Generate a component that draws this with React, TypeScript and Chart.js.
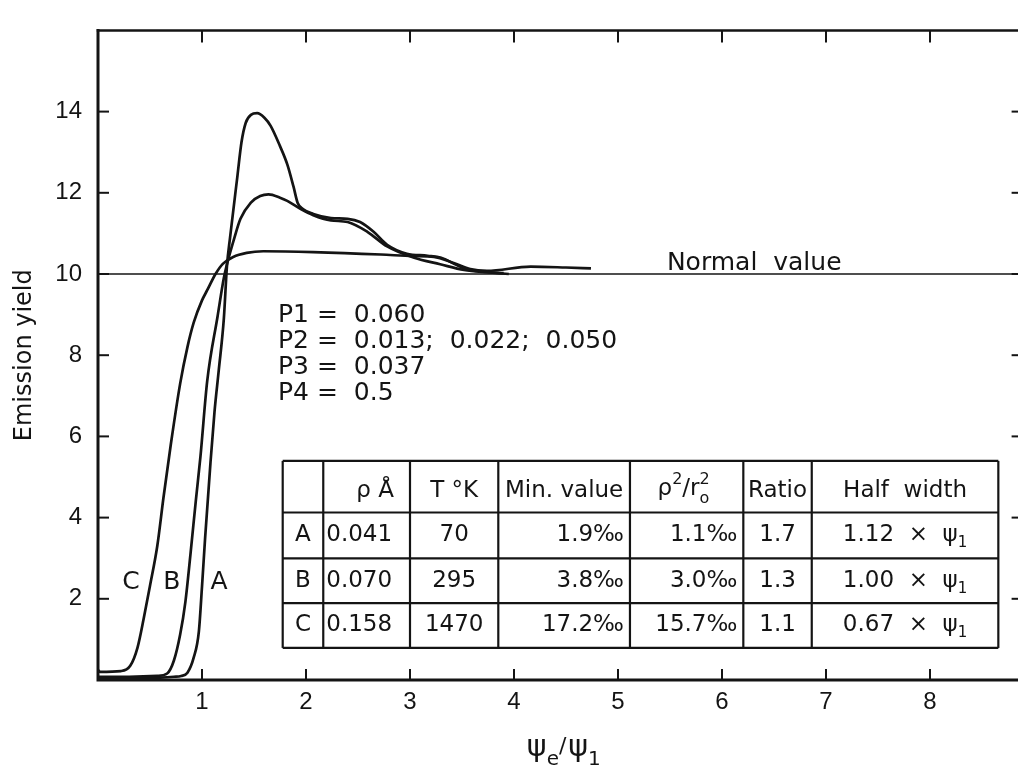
import React, { useEffect, useRef } from 'react';
import { Chart, registerables } from 'chart.js';

Chart.register(...registerables);

// ---------- data ----------
const curveAx = [0, 0.3, 0.6, 0.73, 0.8, 0.86, 0.92, 0.97, 1.0, 1.03, 1.08, 1.12, 1.16, 1.21, 1.24, 1.27, 1.34, 1.38, 1.42, 1.47, 1.53, 1.6, 1.66, 1.75, 1.82, 1.88, 1.92, 1.97, 2.07, 2.24, 2.4, 2.52, 2.65, 2.78, 2.97, 3.17, 3.3, 3.45, 3.58, 3.74, 3.9];
const curveAy = [0.05, 0.05, 0.06, 0.08, 0.1, 0.18, 0.55, 1.2, 2.3, 3.5, 5.3, 6.6, 7.6, 8.9, 10.2, 10.9, 12.4, 13.25, 13.72, 13.92, 13.96, 13.85, 13.65, 13.15, 12.7, 12.15, 11.75, 11.6, 11.48, 11.38, 11.36, 11.28, 11.04, 10.72, 10.5, 10.45, 10.4, 10.22, 10.1, 10.05, 10.02];

const curveBx = [0, 0.3, 0.57, 0.665, 0.73, 0.79, 0.84, 0.89, 0.94, 0.985, 1.05, 1.15, 1.21, 1.24, 1.31, 1.37, 1.47, 1.56, 1.64, 1.75, 1.82, 1.95, 2.07, 2.24, 2.4, 2.59, 2.78, 3.04, 3.29, 3.52, 3.76, 3.95];
const curveBy = [0.08, 0.08, 0.1, 0.16, 0.48, 1.12, 1.92, 3.12, 4.4, 5.5, 7.36, 8.96, 9.9, 10.24, 10.88, 11.36, 11.76, 11.92, 11.96, 11.88, 11.8, 11.6, 11.45, 11.32, 11.28, 11.04, 10.68, 10.4, 10.24, 10.1, 10.04, 10.0];

const curveCx = [0, 0.02, 0.22, 0.31, 0.38, 0.44, 0.5, 0.57, 0.63, 0.7, 0.79, 0.86, 0.92, 1.0, 1.05, 1.13, 1.2, 1.3, 1.43, 1.59, 2.07, 2.72, 3.03, 3.23, 3.42, 3.58, 3.74, 4.16, 4.5, 4.74];
const curveCy = [0.25, 0.2, 0.22, 0.35, 0.8, 1.52, 2.32, 3.3, 4.5, 5.8, 7.3, 8.2, 8.8, 9.35, 9.6, 10.0, 10.25, 10.42, 10.52, 10.56, 10.54, 10.48, 10.44, 10.42, 10.27, 10.12, 10.08, 10.18, 10.16, 10.14];

const normalValue = 10;
const xTicks = [1, 2, 3, 4, 5, 6, 7, 8];
const yTicks = [2, 4, 6, 8, 10, 12, 14];

const curveNames = ['C', 'B', 'A'];
const curveNameX = [0.317, 0.71, 1.163];
const curveNameY = 2.4;

const paramLines = ['P1 =  0.060', 'P2 =  0.013;  0.022;  0.050', 'P3 =  0.037', 'P4 =  0.5'];

const tableRowLabels = ['A', 'B', 'C'];
const tableRho = ['0.041', '0.070', '0.158'];
const tableT = ['70', '295', '1470'];
const tableMin = ['1.9‰', '3.8‰', '17.2‰'];
const tableRhoR = ['1.1‰', '3.0‰', '15.7‰'];
const tableRatio = ['1.7', '1.3', '1.1'];
const tableHalfWidth = ['1.12', '1.00', '0.67'];

// ---------- styling / layout ----------
const INK = '#141414';
const FONT = '"DejaVu Sans", sans-serif';
const TICK_FONT = '"Liberation Sans Narrow", "Liberation Sans", sans-serif';
const CANVAS_W = 1040;
const CANVAS_H = 767;

// table frame in data units
const colEdges = [1.776, 2.166, 3.0, 3.849, 5.115, 6.205, 6.863, 8.657];
const rowEdges = [5.397, 4.126, 2.998, 1.895, 0.79];

type Seg = { t: string; size: number; dy?: number; under?: string; underDy?: number };

function segWidth(ctx: CanvasRenderingContext2D, s: Seg) {
  ctx.font = `${s.size}px ${FONT}`;
  let w = ctx.measureText(s.t).width;
  if (s.under) w = Math.max(w, ctx.measureText(s.under).width);
  return w;
}

function drawRich(ctx: CanvasRenderingContext2D, segs: Seg[], x: number, y: number, align: 'left' | 'center' | 'right') {
  const total = segs.reduce((acc, s) => acc + segWidth(ctx, s), 0);
  let cx = align === 'center' ? x - total / 2 : align === 'right' ? x - total : x;
  ctx.textAlign = 'left';
  for (const s of segs) {
    const w = segWidth(ctx, s);
    ctx.font = `${s.size}px ${FONT}`;
    ctx.fillText(s.t, cx, y + (s.dy || 0));
    if (s.under) ctx.fillText(s.under, cx, y + (s.underDy || 0));
    cx += w;
  }
}

const decorPlugin = {
  id: 'decor',
  afterDatasetsDraw(chart: any) {
    const { ctx, chartArea: a, scales } = chart;
    const px = (v: number) => scales.x.getPixelForValue(v);
    const py = (v: number) => scales.y.getPixelForValue(v);
    const line = (x1: number, y1: number, x2: number, y2: number) => {
      ctx.beginPath();
      ctx.moveTo(x1, y1);
      ctx.lineTo(x2, y2);
      ctx.stroke();
    };
    ctx.save();
    ctx.strokeStyle = INK;
    ctx.fillStyle = INK;
    ctx.lineCap = 'square';

    // frame
    ctx.lineWidth = 3;
    ctx.beginPath();
    ctx.moveTo(a.left, a.top);
    ctx.lineTo(a.left, a.bottom);
    ctx.lineTo(a.right, a.bottom);
    ctx.stroke();
    ctx.lineWidth = 2.5;
    ctx.beginPath();
    ctx.moveTo(a.left, a.top);
    ctx.lineTo(a.right, a.top);
    ctx.lineTo(a.right, a.bottom);
    ctx.stroke();

    // inward ticks
    ctx.lineWidth = 2;
    ctx.lineCap = 'butt';
    xTicks.forEach((v) => {
      const x = px(v);
      line(x, a.bottom, x, a.bottom - 11);
      line(x, a.top, x, a.top + 12);
    });
    yTicks.forEach((v) => {
      const y = py(v);
      line(a.left, y, a.left + 11, y);
      line(a.right, y, a.right - 12, y);
    });

    // curve names
    ctx.font = `25px ${FONT}`;
    ctx.textAlign = 'center';
    ctx.textBaseline = 'middle';
    curveNames.forEach((n, i) => ctx.fillText(n, px(curveNameX[i]), py(curveNameY)));

    // normal value label
    ctx.textAlign = 'left';
    ctx.textBaseline = 'alphabetic';
    ctx.font = `25px ${FONT}`;
    ctx.fillText('Normal  value', px(5.47), py(normalValue) - 4);

    // parameter block
    ctx.textBaseline = 'middle';
    const pTop = py(8.98);
    paramLines.forEach((t, i) => ctx.fillText(t, px(1.731), pTop + i * 26));

    // table grid
    ctx.lineWidth = 2.2;
    const tx0 = px(colEdges[0]);
    const tx1 = px(colEdges[colEdges.length - 1]);
    const ty0 = py(rowEdges[0]);
    const ty1 = py(rowEdges[rowEdges.length - 1]);
    rowEdges.forEach((r) => line(tx0, py(r), tx1, py(r)));
    colEdges.forEach((c) => line(px(c), ty0, px(c), ty1));

    const cl = (i: number) => px(colEdges[i]);
    const cc = (i: number) => (px(colEdges[i]) + px(colEdges[i + 1])) / 2;
    const rc = (j: number) => (py(rowEdges[j]) + py(rowEdges[j + 1])) / 2;
    const TS = 23;

    // header
    const hy = rc(0) + 4;
    ctx.textBaseline = 'middle';
    ctx.font = `${TS}px ${FONT}`;
    ctx.textAlign = 'right';
    ctx.fillText('ρ Å', cl(2) - 16, hy);
    ctx.textAlign = 'center';
    ctx.fillText('T °K', cc(2), hy);
    ctx.fillText('Min. value', cc(3), hy);
    ctx.fillText('Ratio', cc(5), hy);
    ctx.fillText('Half  width', cc(6), hy);
    drawRich(
      ctx,
      [
        { t: 'ρ', size: TS },
        { t: '2', size: 16, dy: -9 },
        { t: '/r', size: TS },
        { t: '2', size: 16, dy: -9, under: 'o', underDy: 10 },
      ],
      cc(4) - 3,
      hy - 2,
      'center'
    );

    // rows
    for (let j = 0; j < 3; j++) {
      const y = rc(j + 1);
      ctx.font = `${TS}px ${FONT}`;
      ctx.textAlign = 'center';
      ctx.fillText(tableRowLabels[j], cc(0), y);
      ctx.textAlign = 'left';
      ctx.fillText(tableRho[j], cl(1) + 3, y);
      ctx.textAlign = 'center';
      ctx.fillText(tableT[j], cc(2), y);
      ctx.textAlign = 'right';
      ctx.fillText(tableMin[j], cl(4) - 6, y);
      ctx.fillText(tableRhoR[j], cl(5) - 6, y);
      ctx.textAlign = 'center';
      ctx.fillText(tableRatio[j], cc(5), y);
      drawRich(
        ctx,
        [
          { t: `${tableHalfWidth[j]}  ×  ψ`, size: TS },
          { t: '1', size: 15, dy: 8 },
        ],
        cc(6),
        y,
        'center'
      );
    }

    // x axis title  ψe / ψ1
    ctx.textBaseline = 'alphabetic';
    drawRich(
      ctx,
      [
        { t: 'ψ', size: 30 },
        { t: 'e', size: 20, dy: 9 },
        { t: '/', size: 22, dy: -3 },
        { t: ' ', size: 6 },
        { t: 'ψ', size: 30 },
        { t: '1', size: 20, dy: 9 },
      ],
      (a.left + a.right) / 2 + 3,
      756,
      'center'
    );

    ctx.restore();
  },
};

function toPoints(xs: number[], ys: number[]) {
  return xs.map((x, i) => ({ x, y: ys[i] }));
}

export default function App() {
  const ref = useRef<HTMLCanvasElement | null>(null);

  useEffect(() => {
    if (!ref.current) return;
    const curveStyle = {
      borderColor: INK,
      borderWidth: 2.7,
      pointRadius: 0,
      showLine: true,
      fill: false,
      cubicInterpolationMode: 'monotone' as const,
    };
    const chart = new Chart(ref.current, {
      type: 'scatter',
      data: {
        datasets: [
          { label: 'A', data: toPoints(curveAx, curveAy), ...curveStyle },
          { label: 'B', data: toPoints(curveBx, curveBy), ...curveStyle },
          { label: 'C', data: toPoints(curveCx, curveCy), ...curveStyle },
          {
            label: 'Normal value',
            data: [
              { x: 0, y: normalValue },
              { x: 8.9, y: normalValue },
            ],
            borderColor: INK,
            borderWidth: 1.6,
            pointRadius: 0,
            showLine: true,
          },
        ],
      },
      options: {
        responsive: false,
        devicePixelRatio: 1,
        animation: false,
        layout: { padding: { left: 0, top: 13, right: CANVAS_W - 1023.6, bottom: 0 } },
        plugins: { legend: { display: false }, tooltip: { enabled: false } },
        scales: {
          x: {
            type: 'linear',
            min: 0,
            max: 8.9,
            grid: { display: false, drawTicks: false },
            border: { display: false },
            afterBuildTicks: (s: any) => {
              s.ticks = xTicks.map((v) => ({ value: v }));
            },
            afterFit: (s: any) => {
              s.height = 87;
            },
            ticks: {
              color: INK,
              padding: 8,
              maxRotation: 0,
              font: { family: TICK_FONT, size: 24 },
            },
          },
          y: {
            type: 'linear',
            min: 0,
            max: 16,
            grid: { display: false, drawTicks: false },
            border: { display: false },
            afterBuildTicks: (s: any) => {
              s.ticks = yTicks.map((v) => ({ value: v }));
            },
            afterFit: (s: any) => {
              s.width = 98;
            },
            ticks: {
              color: INK,
              padding: 16,
              font: { family: TICK_FONT, size: 24 },
            },
            title: {
              display: true,
              text: 'Emission yield',
              color: INK,
              font: { family: FONT, size: 24 },
              padding: { top: 10, bottom: 0 },
            },
          },
        },
      },
      plugins: [decorPlugin],
    });
    return () => chart.destroy();
  }, []);

  return (
    <div
      style={{
        position: 'fixed',
        left: 0,
        top: 0,
        width: 1018,
        height: 767,
        overflow: 'hidden',
        background: '#fff',
      }}
    >
      <canvas ref={ref} width={CANVAS_W} height={CANVAS_H} style={{ width: CANVAS_W, height: CANVAS_H, display: 'block' }} />
    </div>
  );
}
